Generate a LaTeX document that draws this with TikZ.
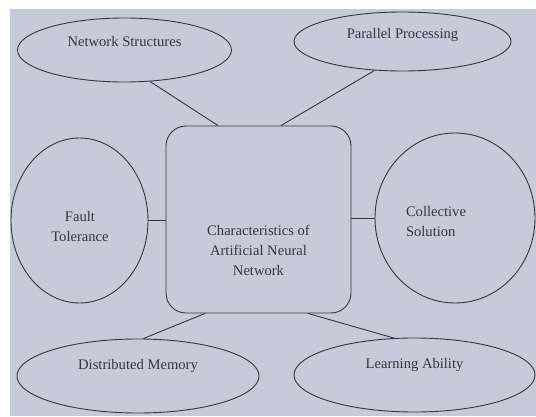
\documentclass[tikz,border=0pt]{standalone}
\usepackage{fontspec}
\setmainfont{Liberation Serif}
\usetikzlibrary{shapes.geometric,calc}
\definecolor{bgc}{RGB}{197,203,219}
\definecolor{ink}{RGB}{55,55,58}
\begin{document}
\begin{tikzpicture}[x=1pt,y=-1pt,
  every node/.style={font=\fontsize{14.6}{20}\selectfont, text=ink},
  oval/.style={draw=ink, line width=0.9pt, ellipse, inner sep=0pt},
  conn/.style={draw=ink, line width=0.9pt},
  central/.style={draw=ink, line width=0.9pt, rounded corners=20pt, inner sep=0pt}]
\useasboundingbox (0,0) rectangle (536,417);
\fill[bgc] (10,9) rectangle (536,416);
% central box
\node[central, minimum width=185pt, minimum height=187pt] (box) at (258.5,219.5) {};
\node[align=center] (boxtext) at (258.5,250) {Characteristics of\\Artificial Neural\\Network};
% ellipses
\node[oval, minimum width=214pt, minimum height=64pt,
  label={[yshift=8pt]center:Network Structures}] (ns) at (124.5,50) {};
\node[oval, minimum width=217pt, minimum height=59pt,
  label={[yshift=6.5pt]center:Parallel Processing}] (pp) at (402.5,41.5) {};
\node[oval, minimum width=137pt, minimum height=165pt] (ft) at (79.5,220.5) {};
\node[align=center] (fttext) at (80,227) {Fault\\Tolerance};
\node[oval, minimum width=160pt, minimum height=170pt] (cs) at (455,218) {};
\node[align=left] (cstext) at (436,222) {Collective\\Solution};
\node[oval, minimum width=242pt, minimum height=74pt,
  label={[yshift=10pt]center:Distributed Memory}] (dm) at (138,376) {};
\node[oval, minimum width=241pt, minimum height=74pt,
  label={[yshift=10pt]center:Learning Ability}] (la) at (414.5,375) {};
% connectors
\draw[conn] (ns.-51) -- ($(box.north)+(-40.5,0)$);
\draw[conn] (pp.-134) -- ($(box.north)+(22.5,0)$);
\draw[conn] (ft.east) -- (ft.east -| box.west);
\draw[conn] (box.east |- cs.west) -- (cs.west);
\draw[conn] ($(box.south)+(-53.5,0)$) -- (dm.82);
\draw[conn] ($(box.south)+(49.5,0)$) -- (la.119);
\end{tikzpicture}
\end{document}
